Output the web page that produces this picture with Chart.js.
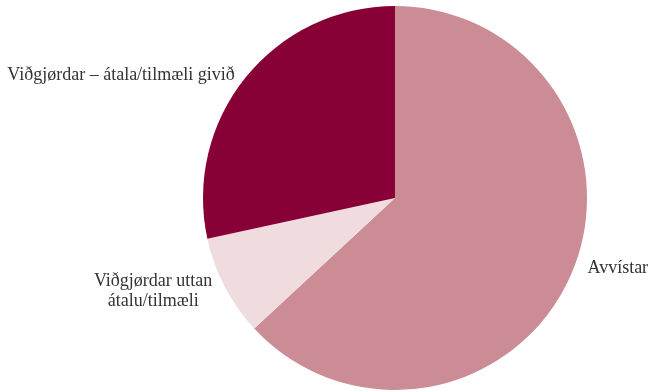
<!DOCTYPE html>
<html>
<head>
<meta charset="utf-8">
<script src="https://cdn.jsdelivr.net/npm/chart.js@4"></script>
<style>
  html, body { margin: 0; padding: 0; background: #fff; }
  #wrap { width: 651px; height: 391px; }
</style>
</head>
<body>
<div id="wrap"><canvas id="pie"></canvas></div>
<script>
const categories = [
    'Avvístar',
    ['Viðgjørdar uttan', 'átalu/tilmæli'],
    'Viðgjørdar – átala/tilmæli givið'
];
const values = [63.1, 8.5, 28.4];
const colors = ['#cb8c95', '#f0dbde', '#870036'];
const labelShiftY = [-14, -2, 7];

// draw the category labels next to each slice
const outerLabels = {
    id: 'outerLabels',
    afterDraw(chart) {
        const ctx = chart.ctx;
        const meta = chart.getDatasetMeta(0);
        ctx.save();
        ctx.font = '18px "Liberation Serif", "DejaVu Serif", serif';
        ctx.fillStyle = '#333333';
        ctx.textBaseline = 'middle';
        meta.data.forEach((arc, i) => {
            const mid = (arc.startAngle + arc.endAngle) / 2;
            const right = Math.cos(mid) >= 0;
            const r = arc.outerRadius + (right ? 18 : 14);
            const x = arc.x + Math.cos(mid) * r;
            const y = arc.y + Math.sin(mid) * r + labelShiftY[i];
            const lines = Array.isArray(categories[i]) ? categories[i] : [categories[i]];
            const lh = 20;
            const w = Math.max(...lines.map(t => ctx.measureText(t).width));
            ctx.textAlign = 'center';
            const lx = right ? x + w / 2 : x - w / 2;
            lines.forEach((ln, j) => {
                ctx.fillText(ln, lx, y + (j - (lines.length - 1) / 2) * lh);
            });
        });
        ctx.restore();
    }
};

new Chart(document.getElementById('pie'), {
    type: 'pie',
    data: {
        labels: categories,
        datasets: [{
            data: values,
            backgroundColor: colors,
            borderWidth: 0
        }]
    },
    options: {
        responsive: true,
        maintainAspectRatio: false,
        animation: false,
        layout: { padding: { left: 139, right: 0, top: 6, bottom: 1 } },
        plugins: {
            legend: { display: false },
            tooltip: { enabled: false }
        }
    },
    plugins: [outerLabels]
});
</script>
</body>
</html>
